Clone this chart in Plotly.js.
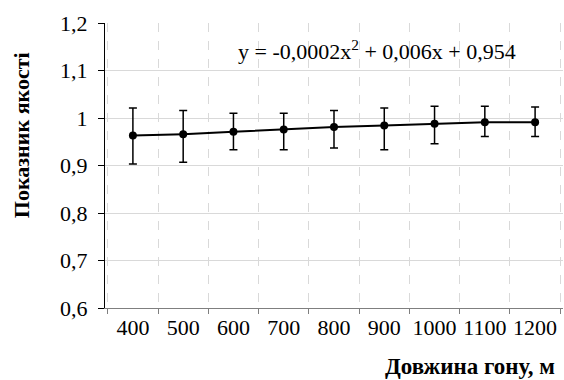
<!DOCTYPE html>
<html>
<head>
<meta charset="utf-8">
<script src="https://cdn.plot.ly/plotly-3.0.1.min.js"></script>
<style>html,body{margin:0;padding:0;background:#fff;}#chart{width:564px;height:380px;}</style>
</head>
<body>
<div id="chart"></div>
<script>
const lengths = ['400','500','600','700','800','900','1000','1100','1200'];
const quality = [0.963, 0.966, 0.971, 0.976, 0.981, 0.984, 0.988, 0.991, 0.991];
const errPlus = [0.058, 0.050, 0.039, 0.034, 0.035, 0.037, 0.037, 0.034, 0.032];
const errMinus = [0.060, 0.059, 0.038, 0.043, 0.044, 0.051, 0.042, 0.030, 0.030];
const equation = 'y = -0,0002x<sup>2</sup> + 0,006x + 0,954';

const serif = '"Liberation Serif", "Times New Roman", serif';

const trace = {
  x: lengths,
  y: quality,
  type: 'scatter',
  mode: 'lines+markers',
  line: {color: '#000', width: 2},
  marker: {color: '#000', size: 8},
  error_y: {type: 'data', symmetric: false, array: errPlus, arrayminus: errMinus,
            color: '#000', thickness: 1.5, width: 4},
  showlegend: false
};

const layout = {
  width: 564, height: 380,
  margin: {l: 105, r: 1, t: 23, b: 72},
  paper_bgcolor: '#fff', plot_bgcolor: '#fff',
  separators: ',.',
  font: {family: serif, color: '#000', size: 22},
  xaxis: {
    type: 'category',
    tickson: 'boundaries',
    tickangle: 0,
    showgrid: true, gridcolor: '#d9d9d9', griddash: 'dash', gridwidth: 1,
    showline: true, linecolor: '#7f7f7f', linewidth: 1,
    ticks: 'outside', ticklen: 5, tickcolor: '#7f7f7f',
    tickfont: {size: 22, family: serif},
    zeroline: false
  },
  yaxis: {
    range: [0.6, 1.2], dtick: 0.1, tick0: 0.6,
    showgrid: true, gridcolor: '#d9d9d9', gridwidth: 1,
    showline: true, linecolor: '#000', linewidth: 1,
    ticks: 'outside', ticklen: 6, tickcolor: '#000',
    ticklabelstandoff: 6,
    tickfont: {size: 22, family: serif},
    zeroline: false
  },
  annotations: [
    {text: equation, xref: 'paper', yref: 'paper', x: 0.594, y: 0.905,
     xanchor: 'center', yanchor: 'middle', showarrow: false,
     font: {size: 22, family: serif}},
    {text: '<b>Показник якості</b>', xref: 'paper', yref: 'paper', x: -0.183, y: 0.607,
     xanchor: 'center', yanchor: 'middle', textangle: -90, showarrow: false,
     font: {size: 22, family: serif}},
    {text: '<b>Довжина гону, м</b>', xref: 'paper', yref: 'paper', x: 0.987, y: -0.205,
     xanchor: 'right', yanchor: 'middle', showarrow: false,
     font: {size: 23, family: serif}}
  ]
};

Plotly.newPlot('chart', [trace], layout, {displayModeBar: false, staticPlot: true});
</script>
</body>
</html>
